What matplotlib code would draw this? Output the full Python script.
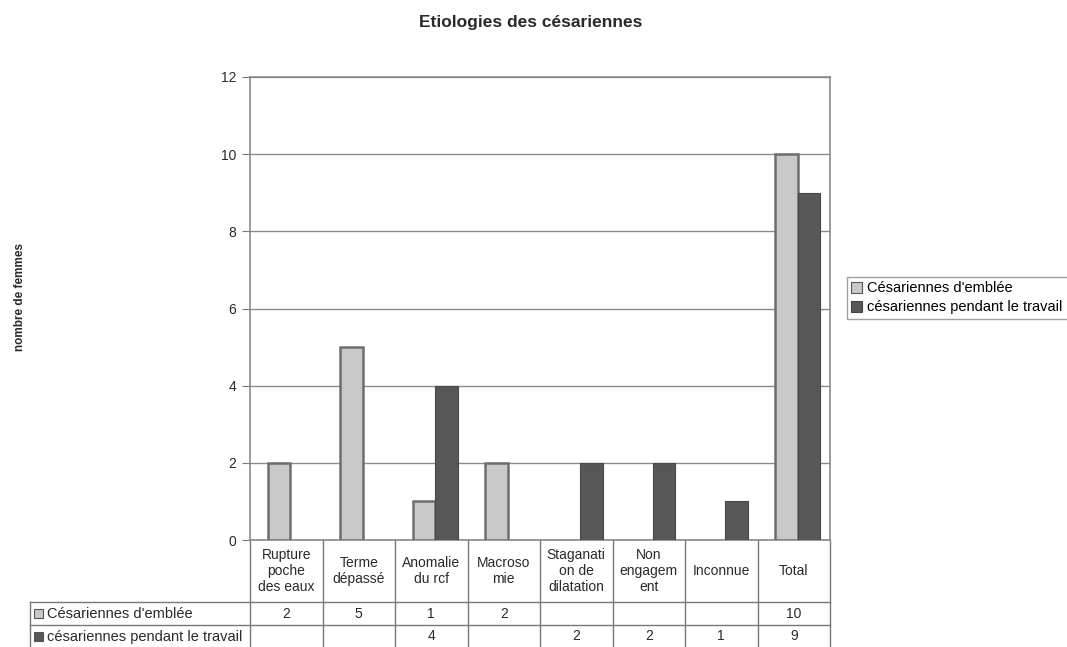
import numpy as np
import matplotlib.pyplot as plt
from matplotlib.patches import Rectangle

plt.rcParams['font.family'] = ['Liberation Sans', 'DejaVu Sans']

categories = ["Rupture\npoche\ndes eaux", "Terme\ndépassé", "Anomalie\ndu rcf", "Macroso\nmie",
              "Staganati\non de\ndilatation", "Non\nengagem\nent", "Inconnue", "Total"]
emblee = [2, 5, 1, 2, None, None, None, 10]
travail = [None, None, 4, None, 2, 2, 1, 9]
series_names = ["Césariennes d'emblée", "césariennes pendant le travail"]
yticks = [0, 2, 4, 6, 8, 10, 12]

light = '#c9c9c9'
dark = '#575757'
txt = '#2a2a2a'
fs = 10

fig = plt.figure(figsize=(10.67, 6.47), dpi=100)
ax = fig.add_axes([250/1067, 1-540/647, 580/1067, 463/647])

x = np.arange(len(categories))
w = 0.31
for i, v in enumerate(emblee):
    if v is not None:
        ax.bar(x[i] - 0.1, v, w, color=light, edgecolor='#6e6e6e', linewidth=1.8, zorder=3)
for i, v in enumerate(travail):
    if v is not None:
        ax.bar(x[i] + 0.21, v, w, color=dark, edgecolor='#484848', linewidth=0.8, zorder=3)

ax.set_xlim(-0.5, len(categories) - 0.5)
ax.set_ylim(0, 12)
ax.set_yticks(yticks)
ax.set_yticklabels([str(t) for t in yticks], fontsize=fs, color=txt)
ax.set_xticks([])
ax.tick_params(axis='y', length=6, color='#777777', pad=4)
ax.yaxis.grid(True, color='#8a8a8a', linewidth=1)
ax.set_axisbelow(True)
for s in ax.spines.values():
    s.set_color('#8a8a8a')
    s.set_linewidth(1.2)

# data table under the chart
tr = ax.get_xaxis_transform()
ppx = 1 / 463
y0 = 0
y1 = -62 * ppx
y2 = -85 * ppx
y3 = -108 * ppx
left = -0.5 - 220 / 72.5
line_kw = dict(color='#777777', linewidth=1, transform=tr, clip_on=False)
for b in np.arange(-0.5, len(categories), 1.0):
    ax.plot([b, b], [y0, y3], **line_kw)
ax.plot([left, left], [y1, y3], **line_kw)
for yy in [y1, y2, y3]:
    ax.plot([left, len(categories) - 0.5], [yy, yy], **line_kw)

for i, c in enumerate(categories):
    ax.text(x[i], (y0 + y1) / 2, c, ha='center', va='center', fontsize=fs,
            color=txt, transform=tr, linespacing=1.15)
for row, vals, yy in [(0, emblee, (y1 + y2) / 2), (1, travail, (y2 + y3) / 2)]:
    for i, v in enumerate(vals):
        if v is not None:
            ax.text(x[i], yy, str(v), ha='center', va='center', fontsize=fs, color=txt, transform=tr)
    col = light if row == 0 else dark
    ax.add_patch(Rectangle((left + 0.05, yy - 4.5 * ppx), 0.13, 9 * ppx, transform=tr,
                           facecolor=col, edgecolor='#555555', linewidth=0.8, clip_on=False))
    ax.text(left + 0.23, yy, series_names[row], ha='left', va='center', fontsize=10.5,
            color=txt, transform=tr)

handles = [Rectangle((0, 0), 1, 1, facecolor=light, edgecolor='#555555', linewidth=0.8),
           Rectangle((0, 0), 1, 1, facecolor=dark, edgecolor='#444444', linewidth=0.8)]
fig.legend(handles, series_names, loc='upper left',
           bbox_to_anchor=(847/1067, 1-277/647, 240/1067, 0.0), mode='expand',
           fontsize=10.5, frameon=True, edgecolor='#888888', fancybox=False,
           handlelength=0.75, handleheight=0.75, handletextpad=0.35, borderpad=0.3,
           labelspacing=0.35, borderaxespad=0)

fig.text(531/1067, 1-23/647, "Etiologies des césariennes", ha='center', va='center',
         fontsize=12.5, fontweight='bold', color=txt)
fig.text(20/1067, 1-297/647, "nombre de femmes", ha='center', va='center', rotation=90,
         fontsize=8.5, fontweight='bold', color=txt)

fig.savefig('out.png', dpi=100)
